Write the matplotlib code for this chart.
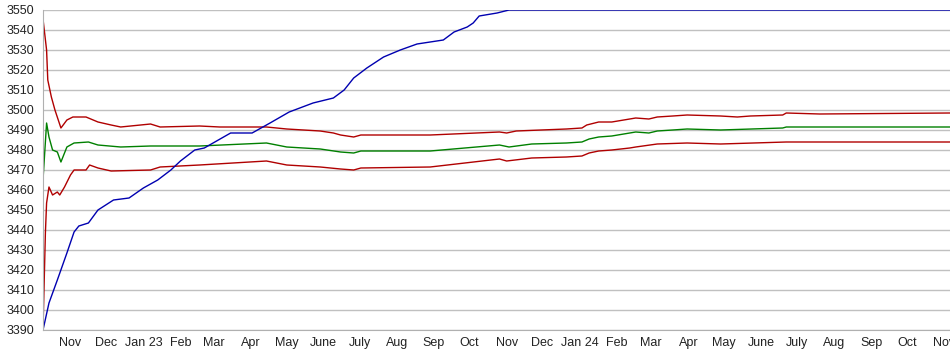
import matplotlib
matplotlib.use("Agg")
import matplotlib.pyplot as plt
import matplotlib.dates as mdates
import pandas as pd

plt.rcParams["font.family"] = ["Liberation Sans", "DejaVu Sans"]

# rising series (blue)
rise_dates = ["2022-10-09", "2022-10-14", "2022-10-21", "2022-10-29", "2022-11-04",
              "2022-11-08", "2022-11-16", "2022-11-24", "2022-12-07", "2022-12-20",
              "2023-01-01", "2023-01-13", "2023-01-24", "2023-02-01", "2023-02-13",
              "2023-02-21", "2023-03-15", "2023-04-02", "2023-04-17", "2023-05-03",
              "2023-05-23", "2023-06-09", "2023-06-18", "2023-06-26", "2023-07-07",
              "2023-07-21", "2023-08-04", "2023-08-18", "2023-08-29", "2023-09-09",
              "2023-09-18", "2023-09-29", "2023-10-04", "2023-10-09", "2023-10-24",
              "2023-11-03", "2024-11-06"]
rise_vals = [3390, 3403.5, 3415, 3428.5, 3439, 3442, 3443.5, 3450, 3455, 3456,
             3461, 3465, 3470, 3474.5, 3480, 3481, 3488.5, 3488.5, 3493.5, 3499,
             3503.5, 3506, 3510, 3516, 3521, 3526.5, 3530, 3533, 3534, 3535,
             3539, 3541.5, 3543.5, 3547, 3548.5, 3550, 3550]

# upper band (red)
upper_dates = ["2022-10-09", "2022-10-12", "2022-10-13", "2022-10-16", "2022-10-19",
               "2022-10-24", "2022-10-29", "2022-11-03", "2022-11-14", "2022-11-24",
               "2022-12-05", "2022-12-13", "2023-01-07", "2023-01-15", "2023-02-17",
               "2023-03-06", "2023-04-14", "2023-05-01", "2023-05-29", "2023-06-09",
               "2023-06-15", "2023-06-26", "2023-07-02", "2023-08-29", "2023-10-26",
               "2023-11-01", "2023-11-09", "2023-12-21", "2024-01-03", "2024-01-07",
               "2024-01-17", "2024-01-28", "2024-02-12", "2024-02-17", "2024-02-28",
               "2024-03-06", "2024-03-19", "2024-03-31", "2024-04-28", "2024-05-12",
               "2024-05-23", "2024-06-19", "2024-06-22", "2024-07-20", "2024-11-06"]
upper_vals = [3545.5, 3530, 3515, 3506.5, 3500, 3491, 3495, 3496.5, 3496.5, 3494,
              3492.5, 3491.5, 3493, 3491.5, 3492, 3491.5, 3491.5, 3490.5, 3489.5, 3488.5,
              3487.5, 3486.5, 3487.5, 3487.5, 3489, 3488.5, 3489.5, 3490.5, 3491, 3492.5,
              3494, 3494, 3495.5, 3496, 3495.5, 3496.5, 3497, 3497.5, 3497, 3496.5,
              3497, 3497.5, 3498.5, 3498, 3498.5]

# middle line (green)
mid_dates = ["2022-10-09", "2022-10-12", "2022-10-14", "2022-10-17", "2022-10-21",
             "2022-10-24", "2022-10-29", "2022-11-04", "2022-11-16", "2022-11-24",
             "2022-12-13", "2023-01-07", "2023-02-17", "2023-04-14", "2023-05-01",
             "2023-05-29", "2023-06-15", "2023-06-26", "2023-07-02", "2023-08-29",
             "2023-10-26", "2023-11-03", "2023-11-22", "2023-12-21", "2024-01-03",
             "2024-01-09", "2024-01-17", "2024-01-28", "2024-02-12", "2024-02-17",
             "2024-02-28", "2024-03-06", "2024-03-19", "2024-03-31", "2024-04-28",
             "2024-06-19", "2024-06-22", "2024-11-06"]
mid_vals = [3465, 3493.5, 3486.5, 3480, 3479, 3474, 3481.5, 3483.5, 3484, 3482.5,
            3481.5, 3482, 3482, 3483.5, 3481.5, 3480.5, 3479, 3478.5, 3479.5, 3479.5,
            3482.5, 3481.5, 3483, 3483.5, 3484, 3485.5, 3486.5, 3487, 3488.5, 3489,
            3488.5, 3489.5, 3490, 3490.5, 3490, 3491, 3491.5, 3491.5]

# lower band (red)
lower_dates = ["2022-10-09", "2022-10-11", "2022-10-12", "2022-10-14", "2022-10-17",
               "2022-10-21", "2022-10-23", "2022-10-27", "2022-11-01", "2022-11-04",
               "2022-11-14", "2022-11-17", "2022-11-24", "2022-12-05", "2023-01-07",
               "2023-01-15", "2023-02-17", "2023-04-14", "2023-05-01", "2023-05-29",
               "2023-06-15", "2023-06-26", "2023-07-02", "2023-08-29", "2023-10-26",
               "2023-11-01", "2023-11-22", "2023-12-21", "2024-01-03", "2024-01-09",
               "2024-01-17", "2024-01-28", "2024-02-12", "2024-02-17", "2024-03-06",
               "2024-03-31", "2024-04-28", "2024-06-22", "2024-11-06"]
lower_vals = [3390, 3438.5, 3453.5, 3461.5, 3457.5, 3459, 3457.5, 3461.5, 3467.5, 3470,
              3470, 3472.5, 3471, 3469.5, 3470, 3471.5, 3472.5, 3474.5, 3472.5, 3471.5,
              3470.5, 3470, 3471, 3471.5, 3475.5, 3474.5, 3476, 3476.5, 3477, 3478.5,
              3479.5, 3480, 3481, 3481.5, 3483, 3483.5, 3483, 3484, 3484]

month_ticks = ["2022-11-01", "2022-12-01", "2023-01-01", "2023-02-01", "2023-03-01",
               "2023-04-01", "2023-05-01", "2023-06-01", "2023-07-01", "2023-08-01",
               "2023-09-01", "2023-10-01", "2023-11-01", "2023-12-01", "2024-01-01",
               "2024-02-01", "2024-03-01", "2024-04-01", "2024-05-01", "2024-06-01",
               "2024-07-01", "2024-08-01", "2024-09-01", "2024-10-01", "2024-11-01"]
month_labels = ["Nov", "Dec", "Jan 23", "Feb", "Mar", "Apr", "May", "June", "July",
                "Aug", "Sep", "Oct", "Nov", "Dec", "Jan 24", "Feb", "Mar", "Apr",
                "May", "June", "July", "Aug", "Sep", "Oct", "Nov"]

fig = plt.figure(figsize=(9.5, 3.55), dpi=100)
ax = fig.add_axes([43 / 950, 25 / 355, 1 - 43 / 950, 320 / 355])

ax.plot(pd.to_datetime(mid_dates), mid_vals, color="#008000", lw=1)
ax.plot(pd.to_datetime(upper_dates), upper_vals, color="#b00000", lw=1)
ax.plot(pd.to_datetime(lower_dates), lower_vals, color="#b00000", lw=1)
ax.plot(pd.to_datetime(rise_dates), rise_vals, color="#0000b0", lw=1)

ax.set_ylim(3390, 3550)
ax.set_yticks(range(3390, 3551, 10))
ax.set_xlim(pd.Timestamp("2022-10-09"), pd.Timestamp("2024-11-06"))
ax.set_xticks(pd.to_datetime(month_ticks))
ax.set_xticklabels(month_labels)

ax.grid(axis="y", color="#c0c0c0", lw=1)
ax.set_axisbelow(True)
for side in ["top", "right"]:
    ax.spines[side].set_visible(False)
for side in ["left", "bottom"]:
    ax.spines[side].set_color("#b0b0b0")
ax.tick_params(length=0, labelsize=9, colors="#222222")
ax.tick_params(axis="y", pad=6)
ax.tick_params(axis="x", pad=5)

fig.savefig("out.png", dpi=100)
